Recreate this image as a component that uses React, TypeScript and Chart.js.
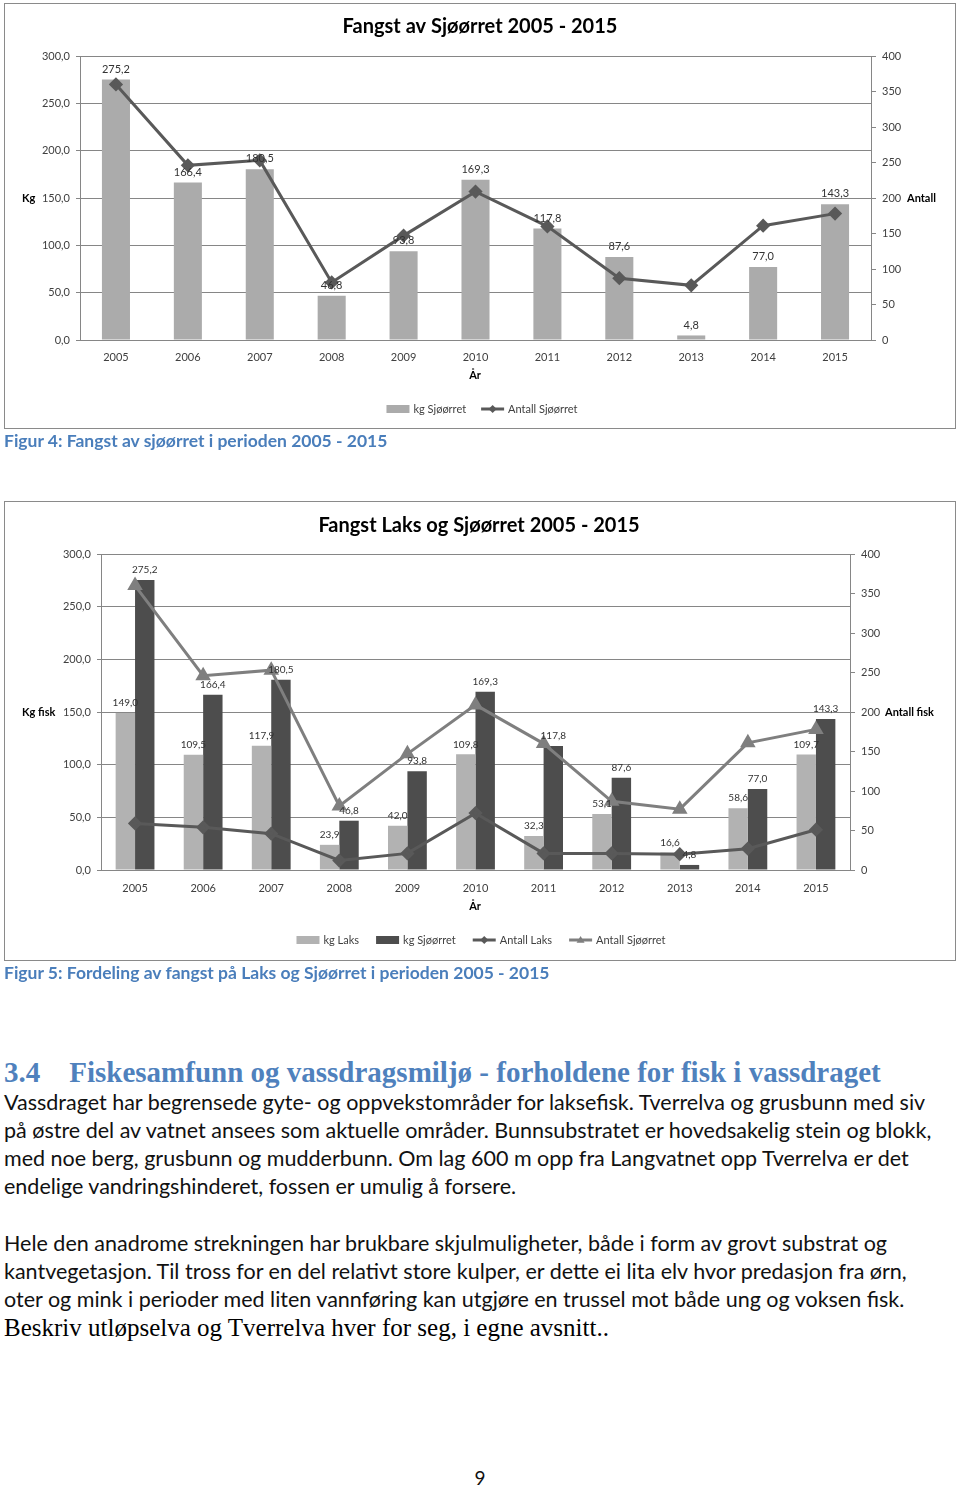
import React, { useEffect, useRef } from 'react';
import { Chart, registerables } from 'chart.js';

Chart.register(...registerables);

// ---------- data ----------
const years = ['2005', '2006', '2007', '2008', '2009', '2010', '2011', '2012', '2013', '2014', '2015'];
const kgSjoorret = [275.2, 166.4, 180.5, 46.8, 93.8, 169.3, 117.8, 87.6, 4.8, 77.0, 143.3];
const antallSjoorret = [360, 246, 253, 81, 147, 209, 160, 87, 77, 161, 178];
const kgLaks = [149.0, 109.5, 117.9, 23.9, 42.0, 109.8, 32.3, 53.1, 16.6, 58.6, 109.7];
const antallLaks = [59, 54, 46, 12, 21, 72, 21, 21, 20, 27, 51];
const kgAxis = { min: 0, max: 300, step: 50 };
const antallAxis = { min: 0, max: 400, step: 50 };

const FONT = 'Lato';
const TXT = '#404040';
const GRID = '#868686';

const fmt1 = (v: number) => v.toFixed(1).replace('.', ',');

type LegendItem = { label: string; kind: 'bar' | 'line'; color: string; marker?: 'diamond' | 'triangle' };
type AxisTitle = { text: string; x: number; y?: number; scale?: string; value?: number; align: CanvasTextAlign };
type DecorCfg = {
  title: string; titleX: number; titleY: number; titleSize: number;
  labelSize: number; labelGap: number;
  axisTitles: AxisTitle[];
  legend: LegendItem[]; legendCx: number; legendY: number; legendSpacing: number;
};

function drawMarker(ctx: CanvasRenderingContext2D, kind: string, x: number, y: number, r: number, color: string) {
  ctx.save();
  ctx.fillStyle = color;
  ctx.beginPath();
  if (kind === 'diamond') {
    ctx.moveTo(x, y - r); ctx.lineTo(x + r, y); ctx.lineTo(x, y + r); ctx.lineTo(x - r, y);
  } else {
    ctx.moveTo(x, y - r); ctx.lineTo(x + r, y + r * 0.7); ctx.lineTo(x - r, y + r * 0.7);
  }
  ctx.closePath();
  ctx.fill();
  ctx.restore();
}

function makeDecor(cfg: DecorCfg) {
  return {
    id: 'decor',
    afterDatasetsDraw(chart: any) {
      const ctx: CanvasRenderingContext2D = chart.ctx;
      ctx.save();
      ctx.font = `${cfg.labelSize}px ${FONT}`;
      ctx.fillStyle = '#333333';
      ctx.textAlign = 'center';
      ctx.textBaseline = 'bottom';
      chart.data.datasets.forEach((ds: any, i: number) => {
        if (ds.type !== 'bar') return;
        const meta = chart.getDatasetMeta(i);
        meta.data.forEach((el: any, j: number) => {
          ctx.fillText(fmt1(ds.data[j]), el.x, el.y - cfg.labelGap);
        });
      });
      ctx.restore();
    },
    afterDraw(chart: any) {
      const ctx: CanvasRenderingContext2D = chart.ctx;
      ctx.save();
      // title
      ctx.font = `bold ${cfg.titleSize}px ${FONT}`;
      ctx.fillStyle = '#000000';
      ctx.textAlign = 'center';
      ctx.textBaseline = 'middle';
      ctx.fillText(cfg.title, cfg.titleX, cfg.titleY);
      // axis titles
      ctx.font = `bold 11px ${FONT}`;
      ctx.fillStyle = '#000000';
      cfg.axisTitles.forEach((a) => {
        const y = a.scale ? chart.scales[a.scale].getPixelForValue(a.value) : a.y;
        ctx.textAlign = a.align;
        ctx.fillText(a.text, a.x, y);
      });
      // legend
      ctx.font = `11px ${FONT}`;
      ctx.textAlign = 'left';
      const sw = 23, gap = 4, spacing = cfg.legendSpacing;
      const widths = cfg.legend.map((it) => sw + gap + ctx.measureText(it.label).width);
      const total = widths.reduce((a, b) => a + b, 0) + spacing * (cfg.legend.length - 1);
      let x = cfg.legendCx - total / 2;
      const y = cfg.legendY;
      cfg.legend.forEach((it, i) => {
        if (it.kind === 'bar') {
          ctx.fillStyle = it.color;
          ctx.fillRect(x, y - 4, sw, 8);
        } else {
          ctx.strokeStyle = it.color;
          ctx.lineWidth = 3;
          ctx.beginPath();
          ctx.moveTo(x, y); ctx.lineTo(x + sw, y);
          ctx.stroke();
          drawMarker(ctx, it.marker || 'diamond', x + sw / 2, y, 4, it.color);
        }
        ctx.fillStyle = TXT;
        ctx.fillText(it.label, x + sw + gap, y);
        x += widths[i] + spacing;
      });
      ctx.restore();
    },
  };
}

function yScales(leftW: number, rightW: number, tickSize: number) {
  return {
    y: {
      position: 'left',
      min: kgAxis.min, max: kgAxis.max,
      ticks: { stepSize: kgAxis.step, callback: (v: any) => fmt1(Number(v)), color: TXT, font: { size: tickSize, family: FONT }, padding: 6 },
      grid: { color: GRID, tickLength: 4, lineWidth: 1 },
      border: { color: GRID, width: 1 },
      afterFit: (s: any) => { s.width = leftW; },
    },
    y1: {
      position: 'right',
      min: antallAxis.min, max: antallAxis.max,
      ticks: { stepSize: antallAxis.step, color: TXT, font: { size: tickSize, family: FONT }, padding: 6 },
      grid: { drawOnChartArea: false, color: GRID, tickLength: 5 },
      border: { color: GRID, width: 1 },
      afterFit: (s: any) => { s.width = rightW; },
    },
  };
}

function xScale(pad: number, size: number) {
  return {
    type: 'category',
    offset: true,
    grid: { display: false },
    border: { display: true, color: GRID, width: 1 },
    ticks: { color: TXT, font: { size, family: FONT }, padding: pad, maxRotation: 0, autoSkip: false },
    afterFit: (s: any) => { s.height = 40; },
  };
}

function buildChart1(): any {
  return {
    type: 'bar',
    data: {
      labels: years,
      datasets: [
        {
          type: 'line', label: 'Antall Sjøørret', data: antallSjoorret, yAxisID: 'y1', order: 0,
          borderColor: '#595959', backgroundColor: '#595959', borderWidth: 3,
          pointStyle: 'rectRot', pointRadius: 5, pointBackgroundColor: '#595959', pointBorderColor: '#595959', tension: 0,
        },
        {
          type: 'bar', label: 'kg Sjøørret', data: kgSjoorret, yAxisID: 'y', order: 1,
          backgroundColor: '#ababab', categoryPercentage: 1, barPercentage: 0.39,
        },
      ],
    },
    options: {
      responsive: false, animation: false, devicePixelRatio: 1,
      layout: { padding: { top: 52, bottom: 48, left: 0, right: 0 } },
      plugins: { legend: { display: false }, title: { display: false }, tooltip: { enabled: false } },
      scales: { x: xScale(3, 11), ...yScales(75, 84, 11) },
    },
    plugins: [makeDecor({
      title: 'Fangst av Sjøørret 2005 - 2015', titleX: 475, titleY: 23, titleSize: 20,
      labelSize: 11, labelGap: 5,
      axisTitles: [
        { text: 'Kg', x: 17, scale: 'y', value: 150, align: 'left' },
        { text: 'Antall', x: 902, scale: 'y1', value: 200, align: 'left' },
        { text: 'År', x: 470, y: 371, align: 'center' },
      ],
      legend: [
        { label: 'kg Sjøørret', kind: 'bar', color: '#ababab' },
        { label: 'Antall Sjøørret', kind: 'line', color: '#595959', marker: 'diamond' },
      ],
      legendCx: 477, legendY: 405, legendSpacing: 15,
    })],
  };
}

function buildChart2(): any {
  return {
    type: 'bar',
    data: {
      labels: years,
      datasets: [
        {
          type: 'line', label: 'Antall Laks', data: antallLaks, yAxisID: 'y1', order: 0,
          borderColor: '#595959', backgroundColor: '#595959', borderWidth: 3,
          pointStyle: 'rectRot', pointRadius: 5, pointBackgroundColor: '#595959', pointBorderColor: '#595959', tension: 0,
        },
        {
          type: 'line', label: 'Antall Sjøørret', data: antallSjoorret, yAxisID: 'y1', order: 0,
          borderColor: '#7f7f7f', backgroundColor: '#7f7f7f', borderWidth: 3,
          pointStyle: 'triangle', pointRadius: 6, pointBackgroundColor: '#7f7f7f', pointBorderColor: '#7f7f7f', tension: 0,
        },
        {
          type: 'bar', label: 'kg Laks', data: kgLaks, yAxisID: 'y', order: 1,
          backgroundColor: '#b2b2b2', categoryPercentage: 0.57, barPercentage: 1,
        },
        {
          type: 'bar', label: 'kg Sjøørret', data: kgSjoorret, yAxisID: 'y', order: 1,
          backgroundColor: '#4d4d4d', categoryPercentage: 0.57, barPercentage: 1,
        },
      ],
    },
    options: {
      responsive: false, animation: false, devicePixelRatio: 1,
      layout: { padding: { top: 52, bottom: 50, left: 0, right: 0 } },
      plugins: { legend: { display: false }, title: { display: false }, tooltip: { enabled: false } },
      scales: { x: xScale(4, 11), ...yScales(96, 105, 11) },
    },
    plugins: [makeDecor({
      title: 'Fangst Laks og Sjøørret 2005 - 2015', titleX: 474, titleY: 24, titleSize: 20,
      labelSize: 10, labelGap: 5,
      axisTitles: [
        { text: 'Kg fisk', x: 17, scale: 'y', value: 150, align: 'left' },
        { text: 'Antall fisk', x: 880, scale: 'y1', value: 200, align: 'left' },
        { text: 'År', x: 470, y: 404, align: 'center' },
      ],
      legend: [
        { label: 'kg Laks', kind: 'bar', color: '#b2b2b2' },
        { label: 'kg Sjøørret', kind: 'bar', color: '#4d4d4d' },
        { label: 'Antall Laks', kind: 'line', color: '#595959', marker: 'diamond' },
        { label: 'Antall Sjøørret', kind: 'line', color: '#7f7f7f', marker: 'triangle' },
      ],
      legendCx: 476, legendY: 438, legendSpacing: 17,
    })],
  };
}

function ChartBox({ build, left, top, width, height }: { build: () => any; left: number; top: number; width: number; height: number }) {
  const ref = useRef<HTMLCanvasElement>(null);
  useEffect(() => {
    const chart = new Chart(ref.current as HTMLCanvasElement, build());
    return () => chart.destroy();
  }, []);
  return (
    <div style={{ position: 'absolute', left, top, width, height, border: '1px solid #8a8a8a', background: '#fff' }}>
      <canvas ref={ref} width={width} height={height} style={{ display: 'block', width, height }} />
    </div>
  );
}

const headingText = '3.4\u2002\u2002Fiskesamfunn og vassdragsmiljø - forholdene for fisk i vassdraget';
const para1 = [
  'Vassdraget har begrensede gyte- og oppvekstområder for laksefisk. Tverrelva og grusbunn med siv',
  'på østre del av vatnet ansees som aktuelle områder. Bunnsubstratet er hovedsakelig stein og blokk,',
  'med noe berg, grusbunn og mudderbunn. Om lag 600 m opp fra Langvatnet opp Tverrelva er det',
  'endelige vandringshinderet, fossen er umulig å forsere.',
];
const para1Y = [1102, 1130, 1158, 1186];
const para2 = [
  'Hele den anadrome strekningen har brukbare skjulmuligheter, både i form av grovt substrat og',
  'kantvegetasjon. Til tross for en del relativt store kulper, er dette ei lita elv hvor predasjon fra ørn,',
  'oter og mink i perioder med liten vannføring kan utgjøre en trussel mot både ung og voksen fisk.',
];
const para2Y = [1243, 1271, 1299];

function Line({ text, y, style }: { text: string; y: number; style?: React.CSSProperties }) {
  return (
    <div style={{ position: 'absolute', left: 4, top: y - 15, height: 30, lineHeight: '30px', whiteSpace: 'nowrap', ...style }}>
      {text}
    </div>
  );
}

export default function App() {
  const body: React.CSSProperties = { fontFamily: FONT, fontSize: 21.5, color: '#111' };
  const caption: React.CSSProperties = { fontFamily: FONT, fontSize: 17.5, fontWeight: 'bold', color: '#4a7ebb' };
  return (
    <div style={{ position: 'absolute', left: 0, top: 0, width: 960, height: 1488, background: '#fff' }}>
      <ChartBox build={buildChart1} left={4} top={3} width={950} height={424} />
      <Line text="Figur 4: Fangst av sjøørret i perioden 2005 - 2015" y={441} style={caption} />
      <ChartBox build={buildChart2} left={4} top={501} width={950} height={458} />
      <Line text="Figur 5: Fordeling av fangst på Laks og Sjøørret i perioden 2005 - 2015" y={973} style={caption} />
      <Line text={headingText} y={1072} style={{ fontFamily: '"Liberation Serif"', fontWeight: 'bold', fontSize: 29, color: '#4f81bd' }} />
      {para1.map((t, i) => <Line key={'a' + i} text={t} y={para1Y[i]} style={body} />)}
      {para2.map((t, i) => <Line key={'b' + i} text={t} y={para2Y[i]} style={body} />)}
      <Line text="Beskriv utløpselva og Tverrelva hver for seg, i egne avsnitt.." y={1328} style={{ fontFamily: '"Liberation Serif"', fontSize: 25, color: '#000' }} />
      <div style={{ position: 'absolute', left: 0, width: 960, top: 1465, lineHeight: '26px', textAlign: 'center', fontFamily: FONT, fontSize: 19, color: '#111' }}>9</div>
    </div>
  );
}
